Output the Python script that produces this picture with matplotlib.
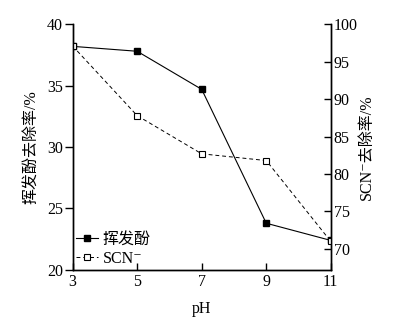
import matplotlib
matplotlib.use("Agg")
import matplotlib.pyplot as plt

plt.rcParams['font.family'] = ['Liberation Serif', 'DejaVu Serif', 'Noto Sans CJK SC']

ph = [3, 5, 7, 9, 11]
phenol = [38.2, 37.8, 34.7, 23.8, 22.4]   # 挥发酚去除率 (%)
scn = [97.1, 87.8, 82.7, 81.8, 71.0]      # SCN- 去除率 (%)

fig = plt.figure(figsize=(4.01, 3.32), dpi=100)
ax = fig.add_axes([0.181, 0.187, 0.644, 0.740])
ax2 = ax.twinx()

l1, = ax.plot(ph, phenol, '-', color='black', lw=0.8, marker='s', ms=5,
              mfc='black', mec='black', zorder=3)
l2, = ax2.plot(ph, scn, '--', color='black', lw=0.7, dashes=(4, 3), marker='s', ms=4.5,
               mfc='white', mec='black', mew=0.8, zorder=2)

ax.set_xlim(3, 11)
ax.set_ylim(20, 40)
ax2.set_ylim(67.2, 100)
ax.set_xticks(ph)
ax.set_yticks([20, 25, 30, 35, 40])
ax2.set_yticks([70, 75, 80, 85, 90, 95, 100])

for a in (ax, ax2):
    a.spines['top'].set_visible(False)
    for s in a.spines.values():
        s.set_linewidth(1.0)
fs = 11.5
ax.tick_params(axis='y', direction='out', length=6, width=1, labelsize=fs, pad=1)
ax.tick_params(axis='x', direction='in', length=5, width=1, labelsize=fs, pad=3)
ax2.tick_params(axis='y', direction='in', length=5, width=1, labelsize=fs, pad=2)

ax.set_xlabel('pH', fontsize=fs, labelpad=8)
ax.set_ylabel('挥发酚去除率/%', fontsize=fs, labelpad=5)
ax2.set_ylabel('SCN⁻去除率/%', fontsize=fs, labelpad=1)

ax.legend([l1, l2], ['挥发酚', 'SCN⁻'], loc='lower left', frameon=False,
          fontsize=fs, handlelength=1.4, handletextpad=0.3, borderaxespad=0.0,
          labelspacing=0.2, borderpad=0.2)

fig.savefig('out.png', dpi=100)
